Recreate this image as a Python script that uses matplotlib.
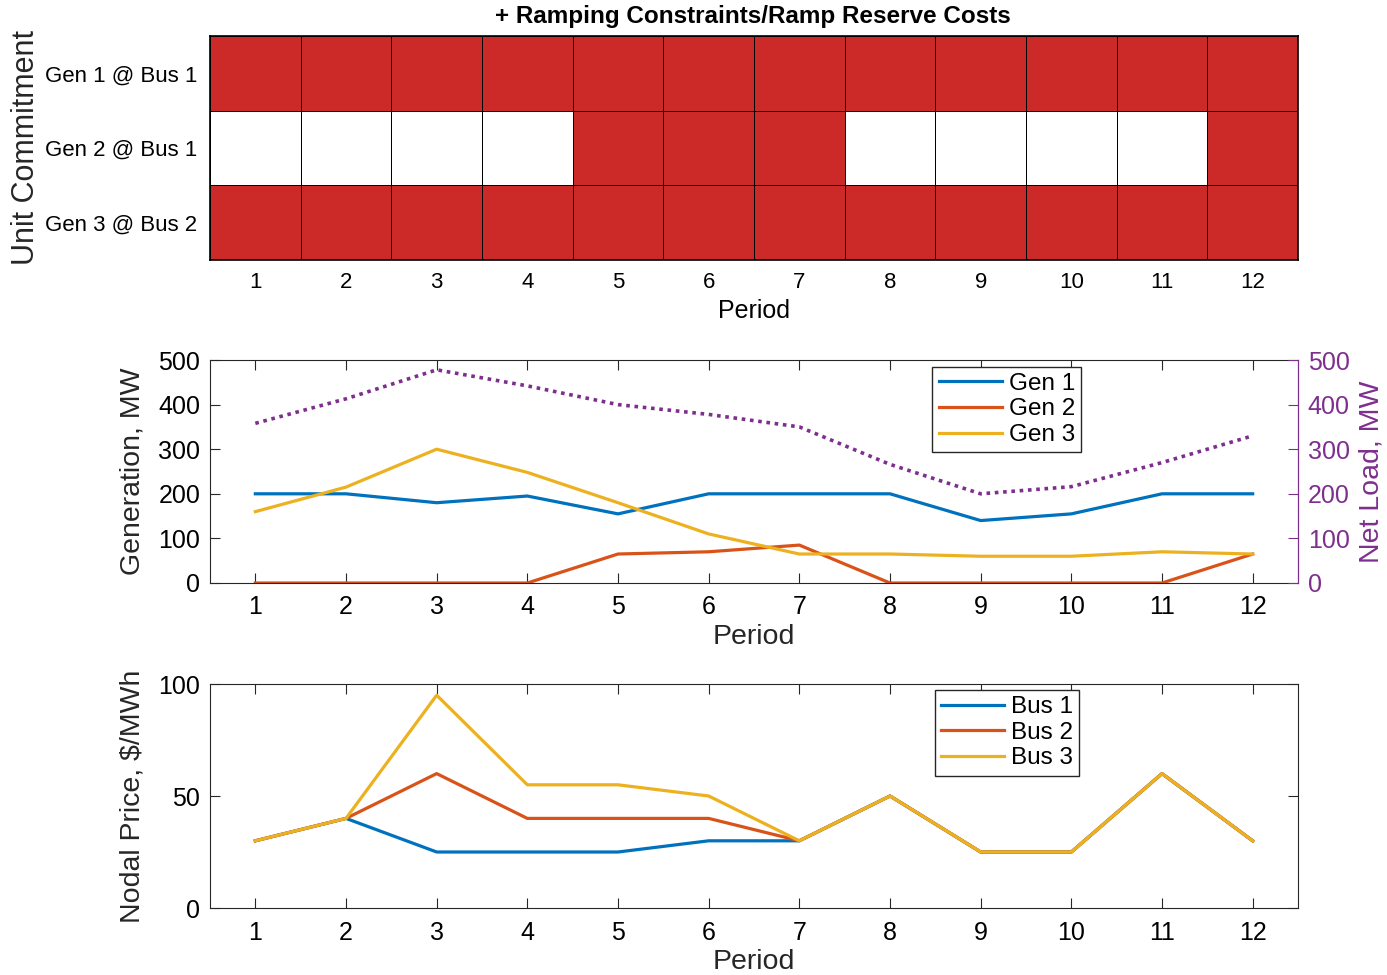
import numpy as np
import matplotlib
matplotlib.use('Agg')
import matplotlib.pyplot as plt
from matplotlib.colors import ListedColormap

plt.rcParams['font.family'] = ['Liberation Sans', 'DejaVu Sans']

# unit commitment status (rows: generators, cols: periods)
periods = list(range(1, 13))
gen_labels = ['Gen 1 @ Bus 1', 'Gen 2 @ Bus 1', 'Gen 3 @ Bus 2']
commit_g1 = [1, 1, 1, 1, 1, 1, 1, 1, 1, 1, 1, 1]
commit_g2 = [0, 0, 0, 0, 1, 1, 1, 0, 0, 0, 0, 1]
commit_g3 = [1, 1, 1, 1, 1, 1, 1, 1, 1, 1, 1, 1]

# generation, MW
gen1 = [200, 200, 180, 195, 155, 200, 200, 200, 140, 155, 200, 200]
gen2 = [0, 0, 0, 0, 65, 70, 85, 0, 0, 0, 0, 65]
gen3 = [160, 215, 300, 248, 180, 110, 65, 65, 60, 60, 70, 65]
net_load = [358, 413, 478, 442, 400, 378, 350, 266, 200, 216, 270, 330]

# nodal prices, $/MWh
bus1 = [30, 40, 25, 25, 25, 30, 30, 50, 25, 25, 60, 30]
bus2 = [30, 40, 60, 40, 40, 40, 30, 50, 25, 25, 60, 30]
bus3 = [30, 40, 95, 55, 55, 50, 30, 50, 25, 25, 60, 30]

blue = '#0072BD'
orange = '#D95319'
yellow = '#EDB120'
purple = '#7E2F8E'
red = '#CC2929'
axc = '#262626'

fig = plt.figure(figsize=(13.87, 9.75), dpi=100)

W, H = 1387, 975
def box(l, t, r, b):
    return [l / W, 1 - b / H, (r - l) / W, (b - t) / H]

def style(ax):
    for s in ax.spines.values():
        s.set_color(axc)
        s.set_linewidth(0.8)
    ax.tick_params(direction='in', length=7, width=0.8, color=axc,
                   top=True, right=True, labelsize=18, pad=9)

# ---- top: unit commitment ----
ax1 = fig.add_axes(box(210, 36, 1298, 260))
status = np.array([commit_g1, commit_g2, commit_g3])
xe = np.arange(0.5, 13, 1)
ye = np.arange(0.5, 4, 1)
ax1.pcolormesh(xe, ye, status, cmap=ListedColormap(['white', red]),
               edgecolors='black', linewidth=0.7, vmin=0, vmax=1)
ax1.set_xlim(0.5, 12.5)
ax1.set_ylim(3.5, 0.5)
ax1.set_xticks(periods)
ax1.set_yticks([1, 2, 3])
ax1.set_yticklabels(gen_labels)
ax1.tick_params(length=0, labelsize=16, pad=9)
for s in ax1.spines.values():
    s.set_linewidth(1.2)
ax1.set_xlabel('Period', fontsize=18, labelpad=4)
ax1.set_ylabel('Unit Commitment', fontsize=22, color=axc)
ax1.yaxis.set_label_coords(-0.155, 0.5)
fig.text(753 / W, 1 - 16 / H, '+ Ramping Constraints/Ramp Reserve Costs',
         fontsize=17.5, fontweight='bold', ha='center', va='center')

# ---- middle: generation ----
ax2 = fig.add_axes(box(210, 360, 1298, 583))
style(ax2)
ax2.tick_params(right=False)
ax2.plot(periods, gen1, color=blue, lw=2.3, label='Gen 1')
ax2.plot(periods, gen2, color=orange, lw=2.3, label='Gen 2')
ax2.plot(periods, gen3, color=yellow, lw=2.3, label='Gen 3')
ax2.set_xlim(0.5, 12.5)
ax2.set_ylim(0, 500)
ax2.set_xticks(periods)
ax2.set_yticks(range(0, 501, 100))
ax2.tick_params(axis='y', pad=7)
ax2.set_xlabel('Period', fontsize=20.5, color=axc, labelpad=3)
ax2.set_ylabel('Generation, MW', fontsize=20.5, color=axc, labelpad=9)
ax2.legend(loc='upper left', bbox_to_anchor=(0.664, 0.97), fontsize=17.5,
           frameon=True, fancybox=False, edgecolor=axc, framealpha=1,
           handlelength=2.6, labelspacing=0.15, borderpad=0.25, handletextpad=0.3,
           borderaxespad=0)

ax2r = ax2.twinx()
ax2r.plot(periods, net_load, color=purple, lw=2.6, linestyle=(0, (1, 1.3)))
ax2r.set_ylim(0, 500)
ax2r.set_yticks(range(0, 501, 100))
for s in ax2r.spines.values():
    s.set_visible(False)
ax2r.spines['right'].set_visible(True)
ax2r.spines['right'].set_color(purple)
ax2r.tick_params(direction='in', length=7, color=purple, labelcolor=purple,
                 labelsize=18, pad=7)
ax2r.set_ylabel('Net Load, MW', fontsize=20.5, color=purple, labelpad=6)

# ---- bottom: nodal prices ----
ax3 = fig.add_axes(box(210, 684, 1298, 908))
style(ax3)
ax3.plot(periods, bus1, color=blue, lw=2.3, label='Bus 1')
ax3.plot(periods, bus2, color=orange, lw=2.3, label='Bus 2')
ax3.plot(periods, bus3, color=yellow, lw=2.3, label='Bus 3')
ax3.set_xlim(0.5, 12.5)
ax3.set_ylim(0, 100)
ax3.set_xticks(periods)
ax3.set_yticks([0, 50, 100])
ax3.tick_params(axis='y', pad=7)
ax3.set_xlabel('Period', fontsize=20.5, color=axc, labelpad=3)
ax3.set_ylabel('Nodal Price, $/MWh', fontsize=20.5, color=axc, labelpad=9)
ax3.legend(loc='upper left', bbox_to_anchor=(0.666, 0.973), fontsize=17.5,
           frameon=True, fancybox=False, edgecolor=axc, framealpha=1,
           handlelength=2.6, labelspacing=0.15, borderpad=0.25, handletextpad=0.3,
           borderaxespad=0)

fig.savefig('out.png', dpi=100)
